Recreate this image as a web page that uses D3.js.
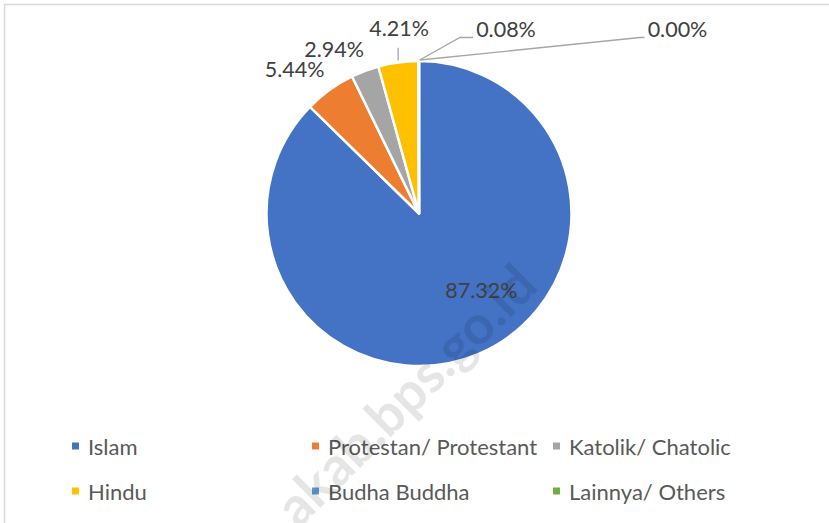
<!DOCTYPE html>
<html>
<head>
<meta charset="utf-8">
<script src="https://cdn.jsdelivr.net/npm/d3@7"></script>
<style>
  body { margin: 0; background: #fff; }
  svg { display: block; font-family: Lato, "Open Sans", sans-serif; }
</style>
</head>
<body>
<script>
var categories = ["Islam", "Protestan/ Protestant", "Katolik/ Chatolic", "Hindu", "Budha Buddha", "Lainnya/ Others"];
var values = [87.32, 5.44, 2.94, 4.21, 0.08, 0.00];
var labels = ["87.32%", "5.44%", "2.94%", "4.21%", "0.08%", "0.00%"];
var colors = ["#4472C4", "#ED7D31", "#A5A5A5", "#FFC000", "#5B9BD5", "#70AD47"];

var width = 829, height = 523;
var cx = 419, cy = 213.5, radius = 152.5;

var svg = d3.select('body').append('svg').attr('width', width).attr('height', height);

// chart border (only top/left edges fall inside the picture)
svg.append('rect').attr('x', 4.5).attr('y', 4.5).attr('width', 900).attr('height', 600)
  .attr('fill', 'none').attr('stroke', '#d9d9d9').attr('stroke-width', 1.5);

var data = categories.map(function(c, i){ return { name: c, value: values[i], label: labels[i], color: colors[i] }; });

var pie = d3.pie().sort(null).value(function(d){ return d.value; }).startAngle(0).endAngle(2 * Math.PI);
var arcs = pie(data);
var arc = d3.arc().innerRadius(0).outerRadius(radius);
var labelArc = d3.arc().innerRadius(186).outerRadius(186);
var innerArc = d3.arc().innerRadius(0).outerRadius(radius * 1.3);

var g = svg.append('g').attr('transform', 'translate(' + cx + ',' + cy + ')');

g.selectAll('path.slice').data(arcs).enter().append('path')
  .attr('class', 'slice')
  .attr('d', arc)
  .attr('fill', function(d){ return d.data.color; })
  .attr('stroke', '#fff').attr('stroke-width', 2.5).attr('stroke-linejoin', 'round');

// label tweaks (Excel "best fit" moved some labels away from the plain centroid)
var nudge = {
  0: { dx: 24, dy: -15 },
  1: { dx: -15.6, dy: 6 },
  2: { dx: -19, dy: 9 },
  3: { dx: 5.6, dy: -1.5 },
  4: { to: [87, -185], bend: [41, -176] },
  5: { to: [258.5, -185], bend: [221, -176] }
};

function pos(d, i){
  var n = nudge[i];
  if (n.to) return n.to;
  var p = i === 0 ? innerArc.centroid(d) : labelArc.centroid(d);
  return [p[0] + n.dx, p[1] + n.dy];
}

// leader lines
var lineColor = '#a6a6a6';
arcs.forEach(function(d, i){
  var edge = d3.arc().innerRadius(radius + 1).outerRadius(radius + 1).centroid(d);
  var n = nudge[i];
  if (n.to) {
    g.append('path')
      .attr('d', 'M' + (edge[0] + 1) + ',' + edge[1] + 'L' + n.bend[0] + ',' + n.bend[1] + 'L' + (n.to[0] - 33) + ',' + n.bend[1])
      .attr('fill', 'none').attr('stroke', lineColor).attr('stroke-width', 1.3);
  }
  if (i === 3) {
    var p = pos(d, i);
    g.append('line').attr('x1', p[0] - 1).attr('x2', p[0] - 1)
      .attr('y1', p[1] + 20).attr('y2', edge[1] - 1)
      .attr('stroke', lineColor).attr('stroke-width', 1.3);
  }
});

g.selectAll('text.lbl').data(arcs).enter().append('text')
  .attr('class', 'lbl')
  .attr('x', function(d, i){ return pos(d, i)[0]; })
  .attr('y', function(d, i){ return pos(d, i)[1]; })
  .attr('text-anchor', 'middle')
  .attr('dominant-baseline', 'central')
  .attr('font-size', 21.5)
  .attr('fill', '#404040')
  .text(function(d){ return d.data.label; });

// legend
var colX = [72, 312, 553], rowY = [446, 491];
var legend = svg.selectAll('g.legend').data(data).enter().append('g')
  .attr('class', 'legend')
  .attr('transform', function(d, i){ return 'translate(' + colX[i % 3] + ',' + rowY[Math.floor(i / 3)] + ')'; });
legend.append('rect').attr('x', 0).attr('y', -3.5).attr('width', 7).attr('height', 7)
  .attr('fill', function(d){ return d.color; });
legend.append('text').attr('x', 16).attr('y', 0)
  .attr('dominant-baseline', 'central')
  .attr('font-size', 22).attr('fill', '#595959')
  .text(function(d){ return d.name; });

// watermark
svg.append('text')
  .attr('transform', 'translate(540,288) rotate(-45)')
  .attr('text-anchor', 'end')
  .attr('font-size', 54).attr('font-weight', 'bold')
  .attr('fill', '#000').attr('fill-opacity', 0.1)
  .text('akab.bps.go.id');
</script>
</body>
</html>
